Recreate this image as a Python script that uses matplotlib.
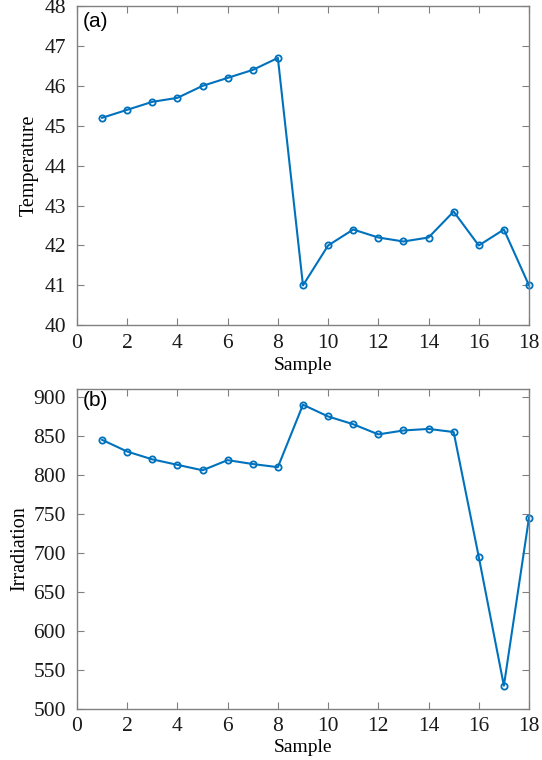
import matplotlib
matplotlib.use("Agg")
import matplotlib.pyplot as plt

samples = list(range(1, 19))
temperature = [45.2, 45.4, 45.6, 45.7, 46.0, 46.2, 46.4, 46.7, 41.0, 42.0,
               42.4, 42.2, 42.1, 42.2, 42.85, 42.0, 42.4, 41.0]
irradiation = [845, 830, 820, 813, 806, 819, 814, 810, 890, 875,
               865, 852, 857, 859, 855, 695, 530, 745]

x_ticks = list(range(0, 19, 2))
temp_ticks = list(range(40, 49))
irr_ticks = list(range(500, 901, 50))

color = "#0072BD"
plt.rcParams['font.family'] = ['Liberation Serif', 'DejaVu Serif']

fig = plt.figure(figsize=(5.42, 7.6), dpi=100)
ax1 = fig.add_axes([0.142, 0.572, 0.834, 0.420])
ax2 = fig.add_axes([0.142, 0.067, 0.834, 0.421])

def style(ax):
    for s in ax.spines.values():
        s.set_color("#808080")
        s.set_linewidth(1.0)
    ax.tick_params(direction="in", top=True, right=True, length=5,
                   color="#808080", labelsize=15.5, labelcolor="#1a1a1a")
    ax.tick_params(axis="y", pad=8)
    ax.tick_params(axis="x", pad=6)

ax1.plot(samples, temperature, color=color, lw=1.5, marker="o", ms=4.5,
         mfc="none", mec=color, mew=1.3, clip_on=False)
ax1.set_xlim(0, 18)
ax1.set_ylim(40, 48)
ax1.set_xticks(x_ticks)
ax1.set_yticks(temp_ticks)
ax1.set_xlabel("Sample", fontsize=14, labelpad=3)
ax1.set_ylabel("Temperature", fontsize=14.5, labelpad=4)
ax1.text(0.012, 0.98, "(a)", transform=ax1.transAxes, ha="left", va="top",
         fontsize=15, family="Liberation Sans")
style(ax1)

ax2.plot(samples, irradiation, color=color, lw=1.5, marker="o", ms=4.5,
         mfc="none", mec=color, mew=1.3, clip_on=False)
ax2.set_xlim(0, 18)
ax2.set_ylim(500, 910)
ax2.set_xticks(x_ticks)
ax2.set_yticks(irr_ticks)
ax2.set_xlabel("Sample", fontsize=14, labelpad=2)
ax2.set_ylabel("Irradiation", fontsize=14.5, labelpad=2.5)
ax2.text(0.012, 0.995, "(b)", transform=ax2.transAxes, ha="left", va="top",
         fontsize=15, family="Liberation Sans")
style(ax2)

fig.savefig("out.png", dpi=100)
